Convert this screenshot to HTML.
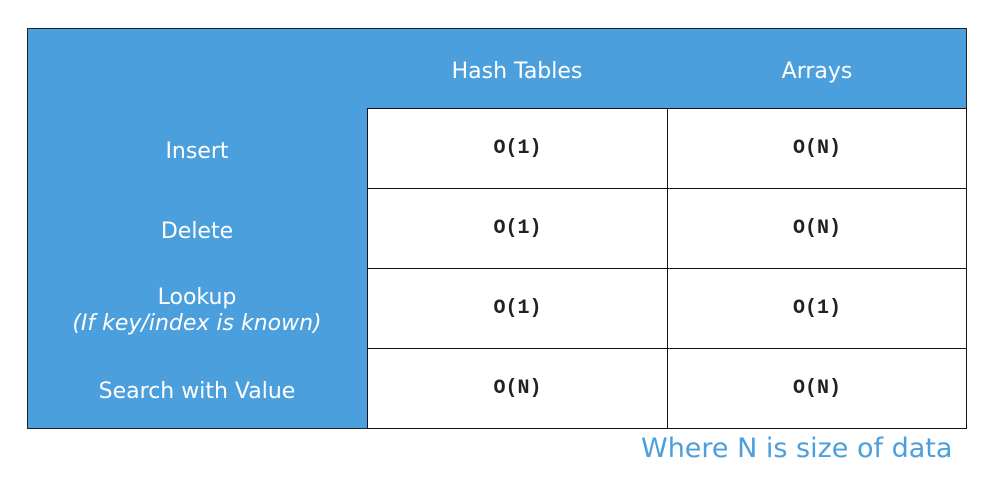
<!DOCTYPE html>
<html><head><style>
body{margin:0;width:994px;height:492px;background:#fff;position:relative;overflow:hidden;font-family:"DejaVu Sans","Liberation Sans",sans-serif;}
.b{position:absolute;left:27px;top:28px;width:940px;height:401px;background:#4a9fdc;border:1px solid #222;box-sizing:border-box;}
.c{position:absolute;background:#fff;border:1px solid #111;box-sizing:border-box;display:flex;align-items:center;justify-content:center;font-family:"Liberation Mono",monospace;font-weight:bold;font-size:20px;color:#222;}
.h{position:absolute;color:#fff;font-size:22px;text-align:center;line-height:26px;}
</style></head><body>
<div class="b"></div>
<div class="h" style="left:367px;top:59px;width:300px">Hash Tables</div>
<div class="h" style="left:667px;top:59px;width:300px">Arrays</div>
<div class="h" style="left:27px;top:139px;width:340px">Insert</div>
<div class="h" style="left:27px;top:219px;width:340px">Delete</div>
<div class="h" style="left:27px;top:285px;width:340px">Lookup<br><i>(If key/index is known)</i></div>
<div class="h" style="left:27px;top:379px;width:340px">Search with Value</div>
<div class="c" style="left:367px;top:108px;width:301px;height:81px">O(1)</div>
<div class="c" style="left:667px;top:108px;width:300px;height:81px">O(N)</div>
<div class="c" style="left:367px;top:188px;width:301px;height:81px">O(1)</div>
<div class="c" style="left:667px;top:188px;width:300px;height:81px">O(N)</div>
<div class="c" style="left:367px;top:268px;width:301px;height:81px">O(1)</div>
<div class="c" style="left:667px;top:268px;width:300px;height:81px">O(1)</div>
<div class="c" style="left:367px;top:348px;width:301px;height:81px">O(N)</div>
<div class="c" style="left:667px;top:348px;width:300px;height:81px">O(N)</div>
<div style="position:absolute;left:641px;top:433px;width:340px;color:#4a9fdc;font-size:27px;">Where N is size of data</div>
</body></html>
